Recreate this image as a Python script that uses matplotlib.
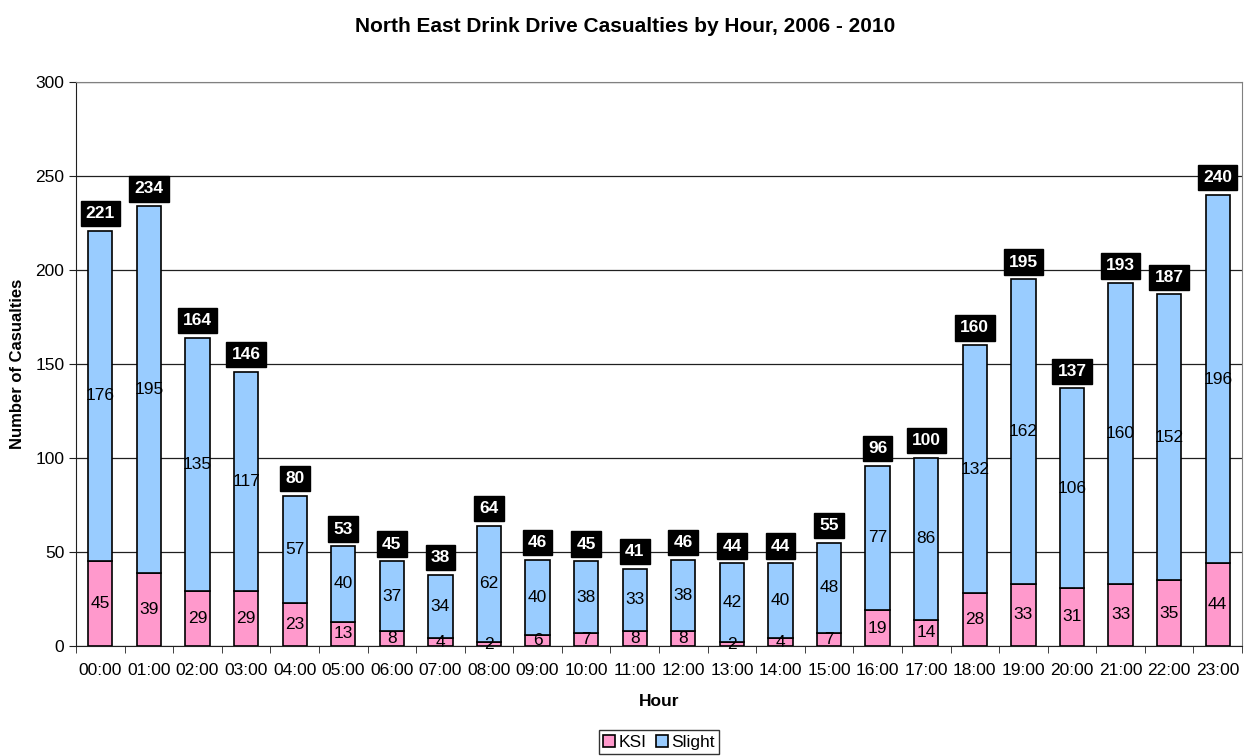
import numpy as np
import matplotlib
matplotlib.use("Agg")
import matplotlib.pyplot as plt
from matplotlib.ticker import FixedLocator

plt.rcParams['font.family'] = ['Liberation Sans', 'DejaVu Sans']

# casualties by hour of day
hours = ["00:00", "01:00", "02:00", "03:00", "04:00", "05:00", "06:00", "07:00",
         "08:00", "09:00", "10:00", "11:00", "12:00", "13:00", "14:00", "15:00",
         "16:00", "17:00", "18:00", "19:00", "20:00", "21:00", "22:00", "23:00"]
ksi = [45, 39, 29, 29, 23, 13, 8, 4, 2, 6, 7, 8, 8, 2, 4, 7, 19, 14, 28, 33, 31, 33, 35, 44]
slight = [176, 195, 135, 117, 57, 40, 37, 34, 62, 40, 38, 33, 38, 42, 40, 48, 77, 86, 132, 162, 106, 160, 152, 196]

ksi = np.array(ksi)
slight = np.array(slight)
totals = ksi + slight
x = np.arange(len(hours))

fig = plt.figure(figsize=(12.51, 7.56), dpi=100)
ax = fig.add_axes([0.0608, 0.1455, 0.9320, 0.7460])

ax.bar(x, ksi, width=0.5, color="#FF99CC", edgecolor="black", linewidth=1.2,
       label="KSI", zorder=3)
ax.bar(x, slight, bottom=ksi, width=0.5, color="#99CCFF", edgecolor="black",
       linewidth=1.2, label="Slight", zorder=3)

# segment values and totals
for i in x:
    ax.text(i, ksi[i] / 2, str(ksi[i]), ha="center", va="center", fontsize=12.5, zorder=4)
    ax.text(i, ksi[i] + slight[i] / 2, str(slight[i]), ha="center", va="center",
            fontsize=12.5, zorder=4)
    ax.annotate(str(totals[i]), xy=(i, totals[i]), xytext=(0, 7), textcoords="offset points",
                ha="center", va="bottom", fontsize=12.5, fontweight="bold", color="white",
                bbox=dict(boxstyle="square,pad=0.3", fc="black", ec="black"), zorder=5)

ax.set_xlim(-0.5, len(hours) - 0.5)
ax.set_ylim(0, 300)
ax.set_yticks(np.arange(0, 301, 50))
ax.yaxis.grid(True, color="#202020", linewidth=0.9, zorder=0)
ax.set_xticks(x)
ax.set_xticklabels(hours)
ax.xaxis.set_minor_locator(FixedLocator(np.arange(-0.5, len(hours), 1)))
ax.tick_params(axis="x", which="major", length=0, labelsize=12.5, pad=12)
ax.tick_params(axis="x", which="minor", length=5, direction="out", color="#202020")
ax.tick_params(axis="y", length=5, direction="out", labelsize=12.5, color="#202020")
for name, side in ax.spines.items():
    side.set_color("#808080" if name in ("top", "right") else "#202020")

ax.set_xlabel("Hour", fontsize=12.5, fontweight="bold", labelpad=12)
ax.set_ylabel("Number of Casualties", fontsize=12, fontweight="bold", labelpad=7)
fig.suptitle("North East Drink Drive Casualties by Hour, 2006 - 2010", fontsize=15,
             fontweight="bold", y=0.978)

leg = ax.legend(loc="lower center", bbox_to_anchor=(0.5, -0.192), ncol=2, frameon=True,
                fancybox=False, edgecolor="black", fontsize=12.5, handlelength=0.7,
                handleheight=0.7, handletextpad=0.2, columnspacing=0.5,
                borderpad=0.25, borderaxespad=0)
leg.get_frame().set_linewidth(1.0)

fig.savefig("out.png", dpi=100)
